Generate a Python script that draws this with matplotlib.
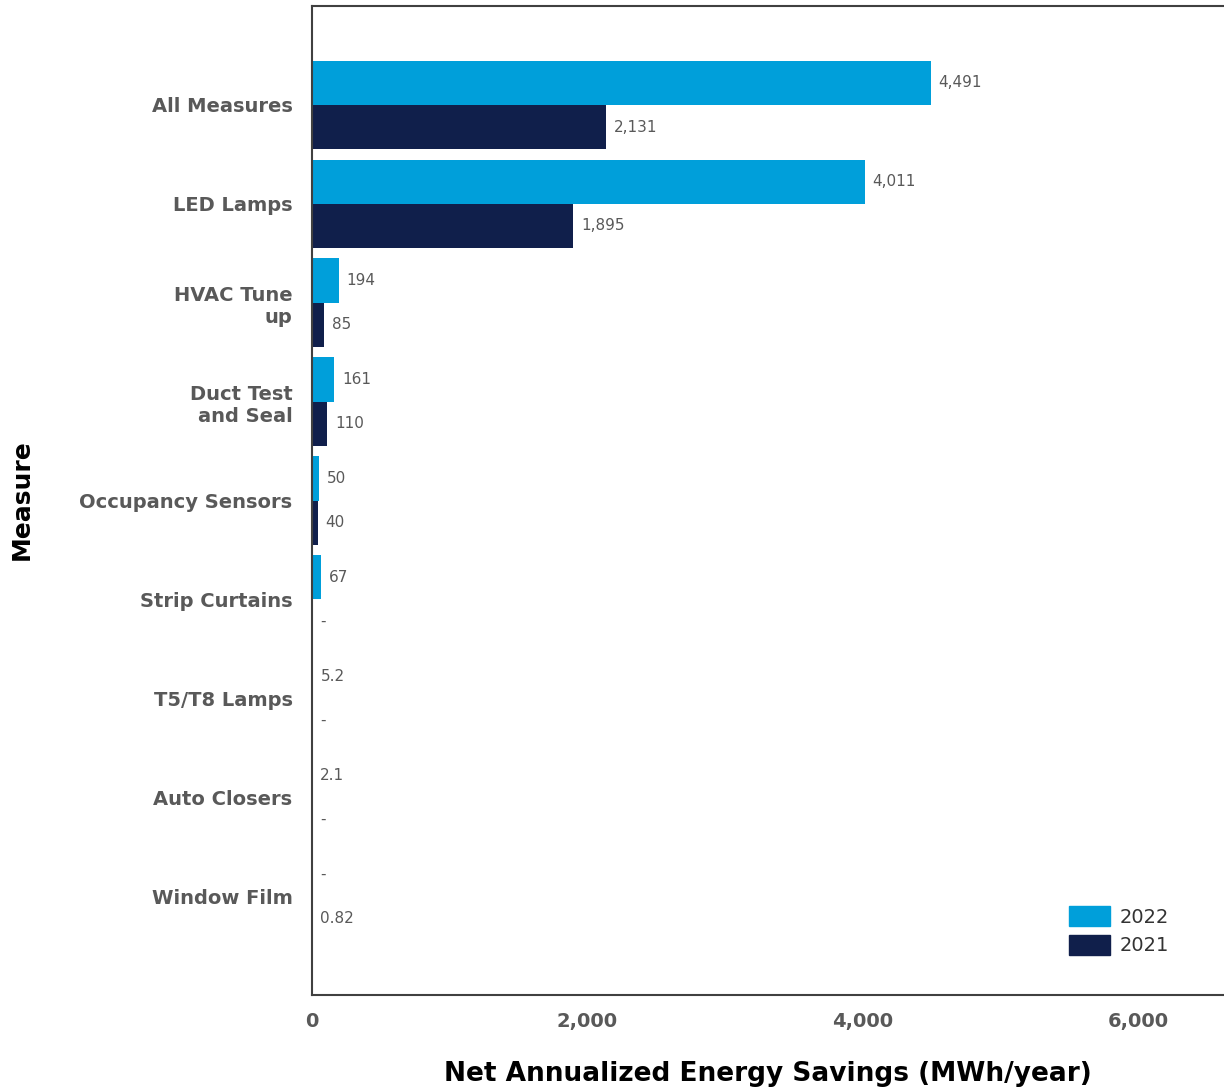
import matplotlib
matplotlib.use("Agg")
import matplotlib.pyplot as plt
import numpy as np
from matplotlib.patches import Patch

measures = ["All Measures", "LED Lamps", "HVAC Tune\nup", "Duct Test\nand Seal",
            "Occupancy Sensors", "Strip Curtains", "T5/T8 Lamps", "Auto Closers", "Window Film"]
savings_2022 = [4491, 4011, 194, 161, 50, 67, 5.2, 2.1, None]
savings_2021 = [2131, 1895, 85, 110, 40, None, None, None, 0.82]
labels_2022 = ["4,491", "4,011", "194", "161", "50", "67", "5.2", "2.1", "-"]
labels_2021 = ["2,131", "1,895", "85", "110", "40", "-", "-", "-", "0.82"]
xticks = [0, 2000, 4000, 6000]
xtick_labels = ["0", "2,000", "4,000", "6,000"]

c22 = "#009FDA"
c21 = "#101F4B"
gray = "#595959"

fig = plt.figure(figsize=(12.24, 10.90), dpi=100)
ax = fig.add_axes([312/1224, 1 - 995/1090, 1 - 312/1224, (995 - 6)/1090])

y = np.arange(len(measures))
h = 0.447
v22 = [v if v is not None else 0 for v in savings_2022]
v21 = [v if v is not None else 0 for v in savings_2021]
ax.barh(y - h/2, v22, height=h, color=c22, label="2022")
ax.barh(y + h/2, v21, height=h, color=c21, label="2021")

xmax = 6620
off = xmax * 8 / 912
for i in range(len(measures)):
    ax.text(v22[i] + off, y[i] - h/2, labels_2022[i], va="center", ha="left",
            fontsize=11, color=gray)
    ax.text(v21[i] + off, y[i] + h/2, labels_2021[i], va="center", ha="left",
            fontsize=11, color=gray)

ax.set_xlim(0, xmax)
ax.set_ylim(len(measures) - 1 + 1.0, -1.0)
ax.set_yticks(y)
ax.set_yticklabels(measures, fontsize=14, fontweight="bold", color=gray,
                   ha="right", multialignment="right")
ax.set_xticks(xticks)
ax.set_xticklabels(xtick_labels, fontsize=14, fontweight="bold", color=gray)
ax.tick_params(axis="both", length=0)
ax.tick_params(axis="y", pad=14)
ax.tick_params(axis="x", pad=12)

for s in ["top", "left", "bottom"]:
    ax.spines[s].set_color("#404040")
    ax.spines[s].set_linewidth(1.5)
ax.spines["right"].set_visible(False)

ax.set_xlabel("Net Annualized Energy Savings (MWh/year)", fontsize=19,
              fontweight="bold", color="black", labelpad=22)
fig.text(22/1224, 1 - 500/1090, "Measure", rotation=90, fontsize=18,
         fontweight="bold", va="center", ha="center", color="black")

handles = [Patch(color=c22, label="2022"), Patch(color=c21, label="2021")]
leg = ax.legend(handles=handles, loc="lower right",
                bbox_to_anchor=((1177 - 312)/912, (995 - 963)/989),
                frameon=False, fontsize=14, handlelength=2.1, handleheight=1.2,
                labelspacing=0.4, handletextpad=0.5, borderaxespad=0)
for t in leg.get_texts():
    t.set_color("#333333")

fig.savefig("out.png", dpi=100)
